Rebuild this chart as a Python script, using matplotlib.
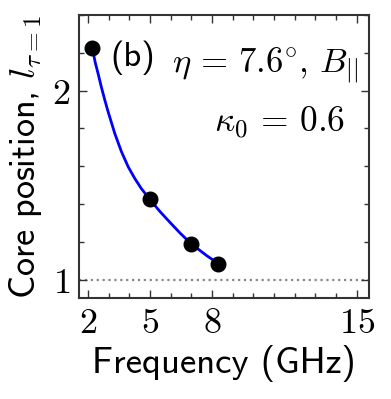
import numpy as np
import matplotlib
matplotlib.use("Agg")
import matplotlib.pyplot as plt
from matplotlib.ticker import MultipleLocator, FixedLocator, FixedFormatter

plt.rcParams["mathtext.fontset"] = "cm"
plt.rcParams["font.family"] = ["cmss10", "DejaVu Sans"]
plt.rcParams["axes.unicode_minus"] = False

# measured core positions
freq_pts = [2.22, 5.00, 6.98, 8.30]
core_pts = [2.226, 1.424, 1.188, 1.085]

# fitted curve
freq_fit = [2.22, 2.35, 2.50, 2.66, 2.82, 2.98, 3.30, 3.62, 3.95, 4.27, 4.59, 5.00,
            5.48, 5.96, 6.47, 6.98, 7.35, 7.73, 8.30]
core_fit = [2.226, 2.152, 2.088, 2.016, 1.950, 1.888, 1.774, 1.678, 1.597, 1.535,
            1.481, 1.424, 1.361, 1.304, 1.245, 1.191, 1.160, 1.128, 1.085]

xticks = [2, 5, 8, 15]
yticks = [1, 2]

fig = plt.figure(figsize=(3.91, 3.99), dpi=100)
ax = fig.add_axes([0.202, 0.252, 0.742, 0.710])

ax.axhline(1.0, color="#888888", ls=":", lw=1.6, zorder=1)
ax.plot(freq_fit, core_fit, color="#0000ff", lw=2.0, zorder=2)
ax.plot(freq_pts, core_pts, "o", color="black", ms=10.5, zorder=3)

ax.set_xlim(1.57, 15.6)
ax.set_ylim(0.9, 2.4)

ax.xaxis.set_major_locator(FixedLocator(xticks))
ax.xaxis.set_major_formatter(FixedFormatter([f"${t}$" for t in xticks]))
ax.xaxis.set_minor_locator(MultipleLocator(1))
ax.yaxis.set_major_locator(FixedLocator(yticks))
ax.yaxis.set_major_formatter(FixedFormatter([f"${t}$" for t in yticks]))
ax.yaxis.set_minor_locator(MultipleLocator(0.2))

ax.tick_params(which="both", direction="in", top=True, right=True,
               color="#333333", labelsize=26, width=1.0)
ax.tick_params(which="major", length=5.5, pad=6)
ax.tick_params(which="minor", length=3.5)
for s in ax.spines.values():
    s.set_linewidth(1.5)
    s.set_color("#333333")

ax.set_xlabel("Frequency (GHz)", fontsize=26.5, labelpad=4)
ax.set_ylabel(r"Core position, $l_{\tau=1}$", fontsize=26, labelpad=6)

ax.text(0.108, 0.848, "(b)", transform=ax.transAxes,
        fontsize=25, ha="left", va="center")
ax.text(0.321, 0.80, r"$\eta\,=\,7.6^{\circ},\,B_{||}$", transform=ax.transAxes,
        fontsize=25, ha="left", va="baseline")
ax.text(0.917, 0.586, r"$\kappa_0\,=\,0.6$", transform=ax.transAxes,
        fontsize=25.5, ha="right", va="baseline")

fig.savefig("out.png", dpi=100)
